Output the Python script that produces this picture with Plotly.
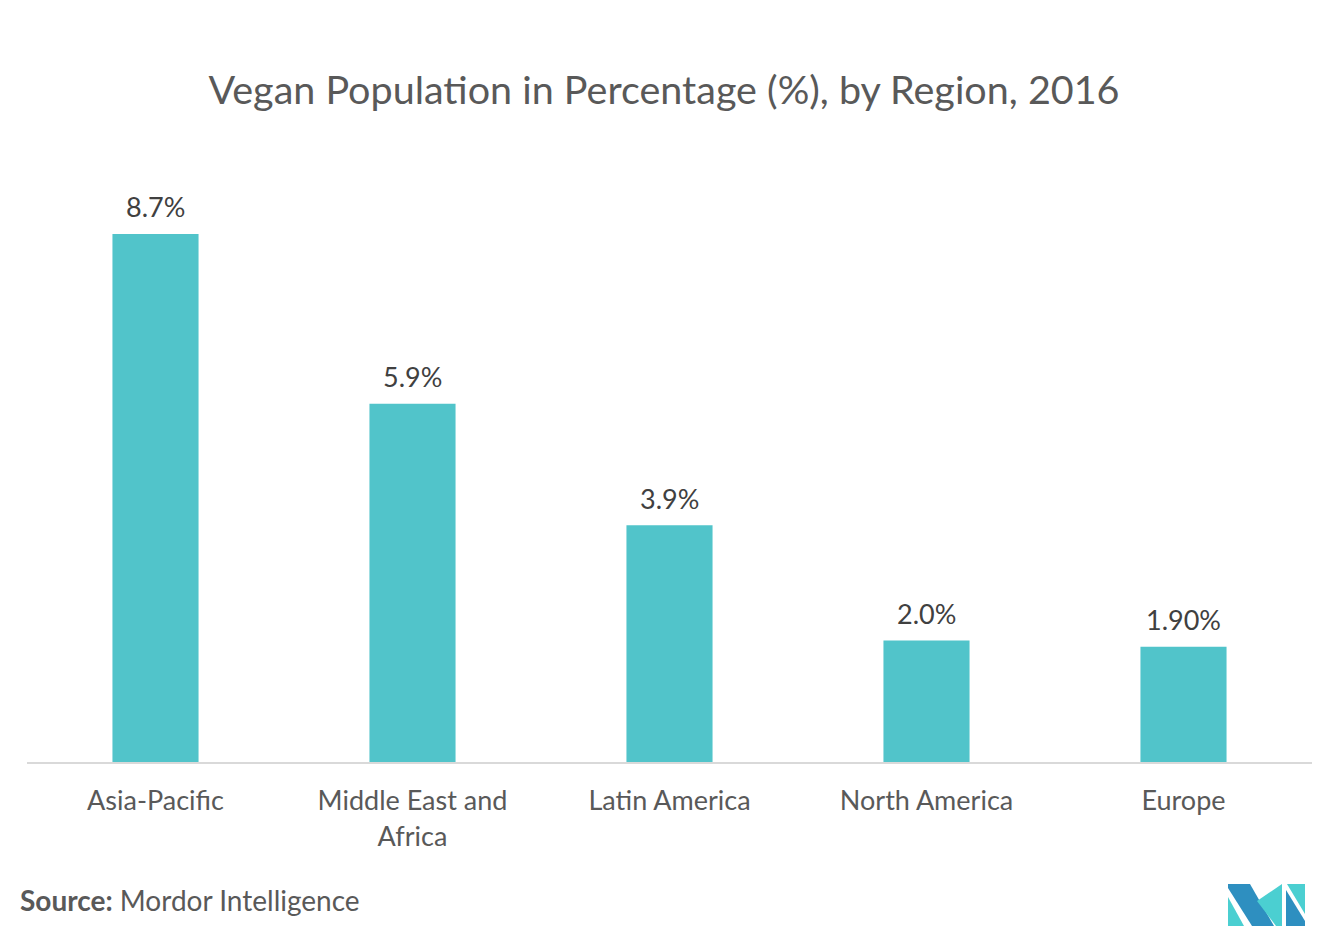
import plotly.graph_objects as go

categories = ["Asia-Pacific", "Middle East and<br>Africa", "Latin America", "North America", "Europe"]
values = [8.7, 5.9, 3.9, 2.0, 1.9]
value_labels = ["8.7%", "5.9%", "3.9%", "2.0%", "1.90%"]

OFF = 8  # page body margin
W, H = 1337 - OFF, 935 - OFF
L, T = 27 - OFF, 170 - OFF
R = W - (1312 - OFF)
B = H - (762 - OFF)
PW, PH = W - L - R, H - T - B

def px(x, y):
    return (x - OFF - L) / PW, (H - B - (y - OFF)) / PH

def path(points):
    pts = [px(x, y) for x, y in points]
    return "M " + " L ".join(f"{a:.5f},{b:.5f}" for a, b in pts) + " Z"

fig = go.Figure(go.Bar(
    x=categories, y=values,
    marker=dict(color="#51C4CA", line=dict(width=0)),
    cliponaxis=False, width=0.335,
))

for c, v, t in zip(categories, values, value_labels):
    fig.add_annotation(x=c, y=v, text=t, showarrow=False, xanchor="center",
                       yanchor="middle", yshift=27,
                       font=dict(family="Lato", size=27, color="#404040"))

dark, teal = "#2E8FC0", "#4BCFD1"
logo = [
    ([(1228, 884), (1250, 884), (1274, 926), (1252, 926), (1228, 888)], dark),
    ([(1228, 897), (1228, 926), (1244, 926)], teal),
    ([(1257, 901), (1282, 884), (1282, 926), (1276, 926)], teal),
    ([(1287, 884), (1305, 884), (1305, 914)], teal),
    ([(1286, 890), (1305, 921), (1305, 926), (1286, 926)], dark),
]
shapes = [dict(type="path", xref="paper", yref="paper", path=path(p), fillcolor=c,
               line=dict(width=0), layer="above") for p, c in logo]

fig.update_layout(
    width=W, height=H,
    margin=dict(l=L, r=R, t=T, b=B),
    paper_bgcolor="white", plot_bgcolor="white",
    title=dict(text="Vegan Population in Percentage (%), by Region, 2016",
               x=px(664, 0)[0], xref="paper", xanchor="center",
               y=1 - (90 - OFF) / H, yanchor="middle",
               font=dict(family="Lato", size=39.5, color="#595959")),
    xaxis=dict(showline=True, linecolor="#D9D9D9", linewidth=2, showgrid=False,
               ticks="", ticklabelstandoff=14,
               tickfont=dict(family="Lato", size=27, color="#595959"),
               fixedrange=True),
    yaxis=dict(visible=False, range=[0, PH / 60.7], showgrid=False, zeroline=False),
    showlegend=False,
    shapes=shapes,
    annotations=list(fig.layout.annotations) + [dict(
        text="<b>Source:</b> Mordor Intelligence", xref="paper", yref="paper",
        x=px(18, 0)[0], y=px(0, 900)[1], xanchor="left", yanchor="middle",
        showarrow=False, font=dict(family="Lato", size=28, color="#595959"))],
)

fig.write_html("out.html")
